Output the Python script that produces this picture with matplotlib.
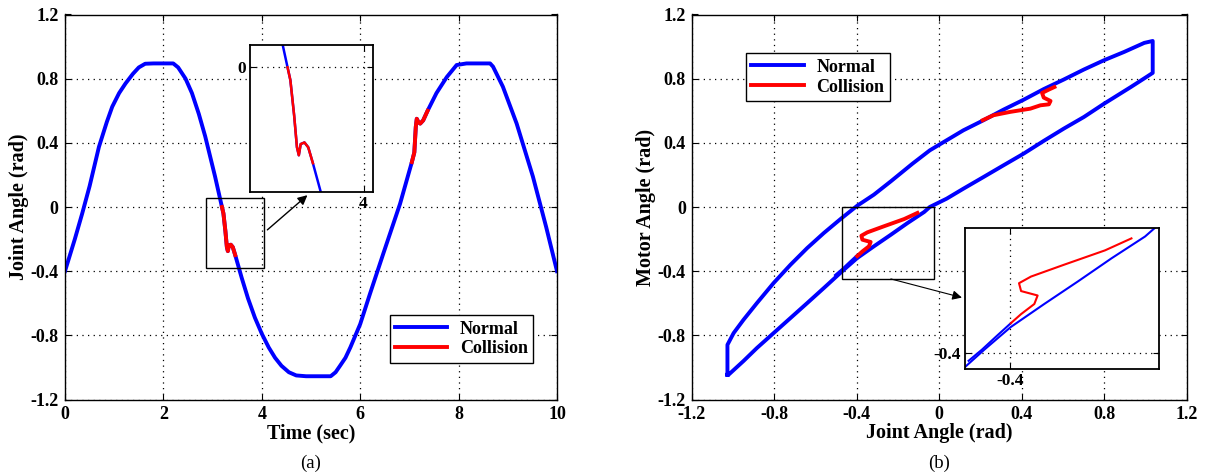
import matplotlib
matplotlib.use("Agg")
import matplotlib.pyplot as plt
from matplotlib.patches import Rectangle

plt.rcParams['font.family'] = ['Liberation Serif', 'DejaVu Serif']
plt.rcParams['font.weight'] = 'bold'

# ---------------- data: (a) joint angle vs time ----------------
time_normal = [0, 0.2, 0.35, 0.5, 0.69, 0.85, 0.96, 1.1, 1.23, 1.38, 1.5, 1.63, 1.8, 2.0, 2.2,
               2.3, 2.45, 2.58, 2.72, 2.85, 3.05, 3.19, 3.22, 3.26, 3.29, 3.31, 3.33, 3.37, 3.41,
               3.46, 3.59, 3.72, 3.86, 4.0, 4.14, 4.27, 4.4, 4.55, 4.7, 4.9, 5.4, 5.5, 5.59, 5.7,
               5.8, 6.0, 6.2, 6.47, 6.81, 7.05, 7.1, 7.13, 7.15, 7.18, 7.22, 7.28, 7.37, 7.55,
               7.76, 7.96, 8.16, 8.64, 8.7, 8.9, 9.18, 9.51, 9.78, 10.0]
angle_normal = [-0.40, -0.20, -0.04, 0.13, 0.375, 0.53, 0.625, 0.71, 0.77, 0.83, 0.87, 0.893,
                0.895, 0.895, 0.895, 0.87, 0.80, 0.71, 0.58, 0.44, 0.19, 0.0, -0.04, -0.15,
                -0.25, -0.275, -0.24, -0.235, -0.25, -0.30, -0.44, -0.57, -0.69, -0.79, -0.875,
                -0.94, -0.99, -1.03, -1.05, -1.055, -1.055, -1.03, -0.99, -0.94, -0.875, -0.73,
                -0.54, -0.29, 0.02, 0.28, 0.34, 0.50, 0.55, 0.53, 0.52, 0.54, 0.60, 0.71, 0.81,
                0.885, 0.895, 0.895, 0.875, 0.75, 0.52, 0.19, -0.125, -0.40]
time_coll1 = [3.19, 3.22, 3.26, 3.29, 3.31, 3.33, 3.37, 3.41, 3.46]
angle_coll1 = [0.0, -0.04, -0.15, -0.25, -0.275, -0.24, -0.235, -0.25, -0.30]
time_coll2 = [7.05, 7.1, 7.13, 7.15, 7.18, 7.22, 7.28, 7.37]
angle_coll2 = [0.28, 0.34, 0.50, 0.55, 0.53, 0.52, 0.54, 0.60]

# ---------------- data: (b) motor angle vs joint angle ----------------
upper_joint = [-1.028, -1.028, -0.998, -0.95, -0.885, -0.804, -0.722, -0.641, -0.56, -0.479,
               -0.398, -0.317, -0.235, -0.13, -0.046, 0.036, 0.117, 0.215, 0.312, 0.41, 0.507,
               0.605, 0.702, 0.80, 0.898, 0.995, 1.036]
upper_motor = [-1.046, -0.859, -0.786, -0.703, -0.599, -0.474, -0.36, -0.256, -0.162, -0.075,
               0.008, 0.077, 0.16, 0.27, 0.353, 0.416, 0.478, 0.541, 0.607, 0.669, 0.735,
               0.795, 0.857, 0.915, 0.967, 1.023, 1.035]
lower_joint = [1.036, 1.011, 0.93, 0.80, 0.702, 0.605, 0.507, 0.41, 0.312, 0.215, 0.117, 0.036,
               -0.046, -0.073, -0.154, -0.235, -0.317, -0.398, -0.463, -0.56, -0.641, -0.722,
               -0.804, -0.885, -0.95, -1.023, -1.028]
lower_motor = [0.836, 0.815, 0.748, 0.644, 0.561, 0.489, 0.412, 0.333, 0.26, 0.187, 0.114,
               0.052, 0.0, -0.031, -0.10, -0.173, -0.245, -0.318, -0.391, -0.505, -0.599,
               -0.692, -0.786, -0.879, -0.96, -1.046, -1.046]
after_joint = [-0.398, -0.43, -0.468, -0.50]
after_motor = [-0.306, -0.344, -0.390, -0.425]
joint_coll1 = [-0.106, -0.17, -0.268, -0.349, -0.378, -0.373, -0.333, -0.341, -0.373, -0.398]
motor_coll1 = [-0.037, -0.075, -0.12, -0.158, -0.179, -0.204, -0.218, -0.245, -0.277, -0.306]
joint_coll2 = [0.211, 0.263, 0.345, 0.442, 0.491, 0.532, 0.54, 0.507, 0.499, 0.532, 0.559]
motor_coll2 = [0.541, 0.572, 0.593, 0.613, 0.634, 0.64, 0.661, 0.682, 0.711, 0.732, 0.748]

y_ticks = [-1.2, -0.8, -0.4, 0, 0.4, 0.8, 1.2]
y_ticklabels = ['-1.2', '-0.8', '-0.4', '0', '0.4', '0.8', '1.2']
t_ticks = [0, 2, 4, 6, 8, 10]
j_ticks = [-1.2, -0.8, -0.4, 0, 0.4, 0.8, 1.2]

BLUE = (0, 0, 1)
RED = (1, 0, 0)
W, H = 1207, 476
TICK_FS = 13
LABEL_FS = 14.5
LEG_FS = 13
fig = plt.figure(figsize=(W / 100, H / 100), dpi=100)

def ax_rect(x0, y0, x1, y1):
    return [x0 / W, 1 - y1 / H, (x1 - x0) / W, (y1 - y0) / H]

def style(ax, fs=TICK_FS, xpad=5, ypad=4.5):
    ax.tick_params(direction='in', top=True, right=True, length=4.5, width=0.8,
                   labelsize=fs)
    ax.tick_params(axis='x', pad=xpad)
    ax.tick_params(axis='y', pad=ypad)
    for lab in ax.get_xticklabels() + ax.get_yticklabels():
        lab.set_fontweight('bold')
    ax.grid(True, color='black', linestyle=(0, (1, 3.5)), linewidth=0.9)
    for s in ax.spines.values():
        s.set_linewidth(1.0)

def legend(ax, loc, anchor):
    lg = ax.legend(loc=loc, bbox_to_anchor=anchor, borderaxespad=0,
                   fancybox=False, edgecolor='black', framealpha=1, handlelength=2.9,
                   prop={'weight': 'bold', 'size': LEG_FS}, borderpad=0.3,
                   labelspacing=0.15, handletextpad=0.7)
    lg.get_frame().set_linewidth(1.0)
    return lg

# ---------- (a) ----------
ax1 = fig.add_axes(ax_rect(65, 14.5, 557, 399.5))
ax1.plot(time_normal, angle_normal, color=BLUE, lw=2.8, label='Normal')
ax1.plot(time_coll1, angle_coll1, color=RED, lw=2.8, label='Collision')
ax1.plot(time_coll2, angle_coll2, color=RED, lw=2.8)
ax1.set_xticks(t_ticks)
ax1.set_yticks(y_ticks)
ax1.set_yticklabels(y_ticklabels)
ax1.set_xlim(0, 10)
ax1.set_ylim(-1.2, 1.2)
ax1.set_xlabel('Time (sec)', fontsize=LABEL_FS, fontweight='bold', labelpad=0)
ax1.set_ylabel('Joint Angle (rad)', fontsize=LABEL_FS, fontweight='bold', labelpad=1)
style(ax1)
legend(ax1, 'lower right', (0.952, 0.0956))
ax1.add_patch(Rectangle((2.87, -0.38), 4.05 - 2.87, 0.054 + 0.38, fill=False,
                        edgecolor='black', lw=1.0, zorder=5))
ax1.annotate('', xy=(4.97, 0.085), xytext=(4.07, -0.154),
             arrowprops=dict(arrowstyle='-|>', color='black', lw=1.0, mutation_scale=14))

in1 = fig.add_axes(ax_rect(250, 45, 373, 192))
in1.plot(time_normal, angle_normal, color=BLUE, lw=1.8)
in1.plot(time_coll1, angle_coll1, color=RED, lw=1.8)
in1.set_xticks(t_ticks)
in1.set_yticks(y_ticks)
in1.set_yticklabels(y_ticklabels)
in1.set_xlim(2.79, 4.1)
in1.set_ylim(-0.39, 0.07)
style(in1, fs=12.5, xpad=3, ypad=3)
for s in in1.spines.values():
    s.set_linewidth(1.3)

# ---------- (b) ----------
ax2 = fig.add_axes(ax_rect(692, 14.5, 1186.5, 399.5))
ax2.plot(upper_joint + lower_joint, upper_motor + lower_motor, color=BLUE, lw=2.8,
         label='Normal')
ax2.plot(after_joint, after_motor, color=BLUE, lw=2.8)
ax2.plot(joint_coll1, motor_coll1, color=RED, lw=2.8, label='Collision')
ax2.plot(joint_coll2, motor_coll2, color=RED, lw=2.8)
ax2.set_xticks(j_ticks)
ax2.set_xticklabels(y_ticklabels)
ax2.set_yticks(y_ticks)
ax2.set_yticklabels(y_ticklabels)
ax2.set_xlim(-1.2, 1.2)
ax2.set_ylim(-1.2, 1.2)
ax2.set_xlabel('Joint Angle (rad)', fontsize=LABEL_FS, fontweight='bold', labelpad=0)
ax2.set_ylabel('Motor Angle (rad)', fontsize=LABEL_FS, fontweight='bold', labelpad=1)
style(ax2)
legend(ax2, 'upper left', (0.109, 0.899))
ax2.add_patch(Rectangle((-0.471, -0.446), 0.4435, 0.446, fill=False,
                        edgecolor='black', lw=1.0, zorder=5))
ax2.annotate('', xy=(0.123, -0.569), xytext=(-0.248, -0.444),
             arrowprops=dict(arrowstyle='-|>', color='black', lw=0.8, mutation_scale=14))

in2 = fig.add_axes(ax_rect(965.3, 228.3, 1158.7, 369.3))
in2.plot(lower_joint, lower_motor, color=BLUE, lw=1.5)
in2.plot(after_joint, after_motor, color=BLUE, lw=1.5)
in2.plot(joint_coll1, motor_coll1, color=RED, lw=1.5)
in2.set_xticks(j_ticks)
in2.set_xticklabels(y_ticklabels)
in2.set_yticks(y_ticks)
in2.set_yticklabels(y_ticklabels)
in2.set_xlim(-0.508, -0.04)
in2.set_ylim(-0.452, -0.005)
style(in2, fs=12.5, xpad=3, ypad=3)
for s in in2.spines.values():
    s.set_linewidth(1.3)

fig.text(311 / W, 1 - 463 / H, '(a)', ha='center', va='center', fontsize=13.5, fontweight='normal')
fig.text(939 / W, 1 - 463 / H, '(b)', ha='center', va='center', fontsize=13.5, fontweight='normal')

fig.savefig('out.png', dpi=100)
